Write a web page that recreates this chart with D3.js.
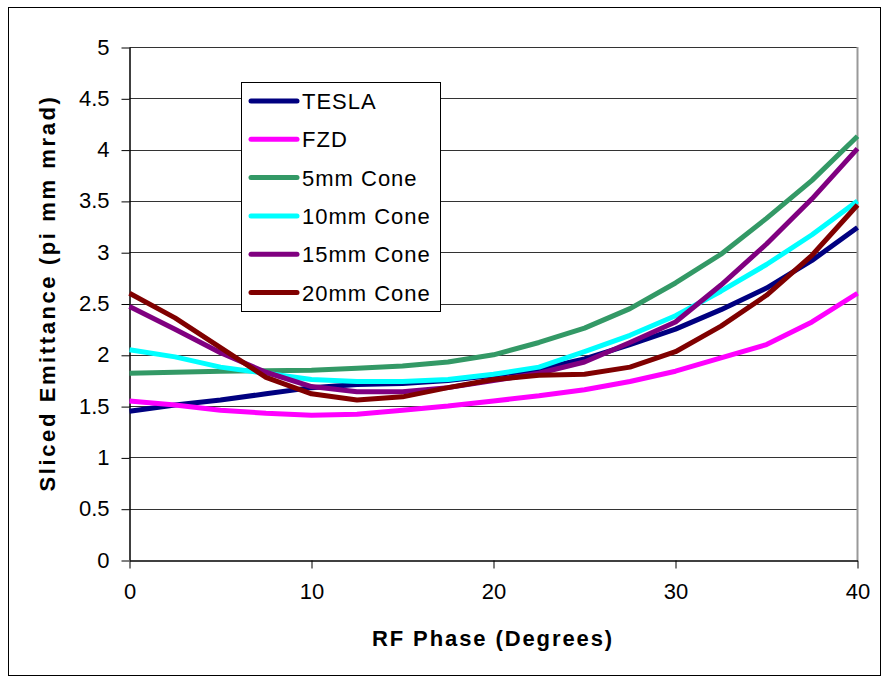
<!DOCTYPE html>
<html>
<head>
<meta charset="utf-8">
<script src="https://cdn.jsdelivr.net/npm/d3@7"></script>
<style>
  body { margin: 0; background: #fff; }
  svg text { font-family: "Liberation Sans", Arial, sans-serif; }
</style>
</head>
<body>
<div class="chart"></div>
<script>
// rf phase values (degrees)
var phase = [0, 2.5, 5, 7.5, 10, 12.5, 15, 17.5, 20, 22.5, 25, 27.5, 30, 32.5, 35, 37.5, 40];

// sliced emittance, one array per gun
var tesla  = [1.45, 1.51, 1.56, 1.62, 1.68, 1.71, 1.72, 1.75, 1.80, 1.86, 1.96, 2.10, 2.25, 2.44, 2.65, 2.92, 3.24];
var fzd    = [1.55, 1.51, 1.46, 1.43, 1.41, 1.42, 1.46, 1.50, 1.55, 1.60, 1.66, 1.74, 1.84, 1.97, 2.10, 2.32, 2.60];
var cone5  = [1.82, 1.83, 1.84, 1.845, 1.85, 1.87, 1.89, 1.93, 2.00, 2.12, 2.26, 2.45, 2.70, 2.98, 3.33, 3.70, 4.13];
var cone10 = [2.05, 1.98, 1.88, 1.82, 1.76, 1.74, 1.74, 1.76, 1.81, 1.88, 2.03, 2.19, 2.38, 2.62, 2.88, 3.17, 3.50];
var cone15 = [2.47, 2.25, 2.02, 1.83, 1.69, 1.64, 1.64, 1.68, 1.75, 1.82, 1.93, 2.12, 2.32, 2.68, 3.08, 3.52, 4.01];
var cone20 = [2.60, 2.36, 2.07, 1.78, 1.62, 1.56, 1.59, 1.68, 1.76, 1.80, 1.81, 1.88, 2.03, 2.28, 2.58, 2.97, 3.46];

var seriesNames = ["TESLA", "FZD", "5mm Cone", "10mm Cone", "15mm Cone", "20mm Cone"];
var seriesColors = ["#000080", "#ff00ff", "#339966", "#00ffff", "#800080", "#800000"];
var seriesValues = [tesla, fzd, cone5, cone10, cone15, cone20];

var xTicks = [0, 10, 20, 30, 40];
var yTicks = [0, 0.5, 1, 1.5, 2, 2.5, 3, 3.5, 4, 4.5, 5];

var svgWidth = 882;
var svgHeight = 677;

var svg = d3.select(".chart")
    .append("svg")
    .attr("width", svgWidth)
    .attr("height", svgHeight);

// outer frame
svg.append("rect")
    .attr("x", 8.5).attr("y", 7.5)
    .attr("width", 872).attr("height", 668)
    .attr("fill", "white")
    .attr("stroke", "black")
    .attr("stroke-width", 1);

// plot area
var plot = { left: 129.5, right: 857.5, top: 47, bottom: 560 };

var x = d3.scaleLinear().domain([0, 40]).range([plot.left, plot.right]);
var y = d3.scaleLinear().domain([0, 5]).range([plot.bottom, plot.top]);

// gridlines
svg.append("g")
    .selectAll("line")
    .data(yTicks.filter(d => d > 0))
    .enter()
    .append("line")
    .attr("x1", plot.left).attr("x2", plot.right)
    .attr("y1", d => Math.round(y(d)) + 0.5)
    .attr("y2", d => Math.round(y(d)) + 0.5)
    .attr("stroke", "#333")
    .attr("stroke-width", 1);

// right border of plot area
svg.append("line")
    .attr("x1", plot.right).attr("x2", plot.right)
    .attr("y1", plot.top).attr("y2", plot.bottom)
    .attr("stroke", "#999")
    .attr("stroke-width", 2);

// axes
var xAxis = d3.axisBottom(x).tickValues(xTicks).tickSize(8).tickSizeOuter(0).tickPadding(15);
var yAxis = d3.axisLeft(y).tickValues(yTicks).tickSize(8).tickSizeOuter(0).tickPadding(12)
    .tickFormat(d3.format("~g"));

var gx = svg.append("g")
    .attr("transform", `translate(0,${plot.bottom + 0.5})`)
    .call(xAxis);
var gy = svg.append("g")
    .attr("transform", `translate(${plot.left},0)`)
    .call(yAxis);

[gx, gy].forEach(function(g) {
    g.select(".domain").attr("stroke", "black").attr("stroke-width", 1.5);
    g.selectAll(".tick line").attr("stroke", "black");
    g.selectAll(".tick text")
        .attr("fill", "black")
        .style("font-size", "22px");
});
gy.selectAll(".tick line").attr("transform", "translate(0,0.5)");

// lines
var line = d3.line()
    .x((d, i) => x(phase[i]))
    .y(d => y(d));

svg.append("g")
    .selectAll("path")
    .data(seriesValues)
    .enter()
    .append("path")
    .attr("d", d => line(d))
    .attr("fill", "none")
    .attr("stroke", (d, i) => seriesColors[i])
    .attr("stroke-width", 5)
    .attr("stroke-linejoin", "round");

// legend
var legend = svg.append("g");
legend.append("rect")
    .attr("x", 241.5).attr("y", 82.5)
    .attr("width", 199).attr("height", 229)
    .attr("fill", "white")
    .attr("stroke", "black")
    .attr("stroke-width", 1);

var legendItems = legend.selectAll(".item")
    .data(seriesNames)
    .enter()
    .append("g")
    .attr("transform", (d, i) => `translate(0,${101 + i * 38.3})`);

legendItems.append("line")
    .attr("x1", 251).attr("x2", 297)
    .attr("stroke", (d, i) => seriesColors[i])
    .attr("stroke-width", 5)
    .attr("stroke-linecap", "round");

legendItems.append("text")
    .attr("x", 302)
    .attr("y", 8)
    .style("font-size", "22px")
    .style("letter-spacing", "1px")
    .text(d => d);

// axis titles
svg.append("text")
    .attr("x", 493)
    .attr("y", 646)
    .attr("text-anchor", "middle")
    .style("font-size", "22px")
    .style("font-weight", "bold")
    .style("letter-spacing", "1.9px")
    .text("RF Phase (Degrees)");

svg.append("text")
    .attr("transform", "translate(55,293) rotate(-90)")
    .attr("text-anchor", "middle")
    .style("font-size", "22px")
    .style("font-weight", "bold")
    .style("letter-spacing", "2.6px")
    .text("Sliced Emittance (pi mm mrad)");
</script>
</body>
</html>
